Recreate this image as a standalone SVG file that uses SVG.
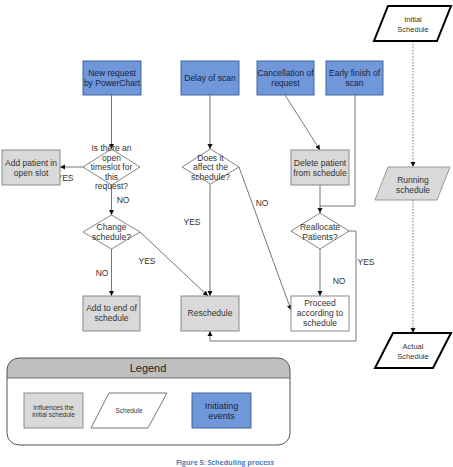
<svg xmlns="http://www.w3.org/2000/svg" width="453" height="467" viewBox="0 0 453 467">
<defs>
<marker id="ah" markerWidth="6" markerHeight="6" refX="5" refY="3" orient="auto" markerUnits="userSpaceOnUse">
<path d="M0,0.5 L5,3 L0,5.5 Z" fill="#111"/>
</marker>
<style>
text{font-family:"Liberation Sans",Arial,sans-serif;font-size:8.5px;fill:#333;text-anchor:middle}
.blue{fill:#6f97da;stroke:#41679e;stroke-width:1}
.blue-t{fill:#1a2240}
.gray{fill:#d9d9d9;stroke:#8a8a8a;stroke-width:1}
.white{fill:#fff;stroke:#8a8a8a;stroke-width:1}
.dia{fill:#fff;stroke:#666;stroke-width:0.8}
.con{fill:none;stroke:#777;stroke-width:1}
.dot{fill:none;stroke:#777;stroke-width:1;stroke-dasharray:1.5,1.5}
.lbl{fill:#333}
.sch{fill:#fff;stroke:#000;stroke-width:2}
.sm{font-size:6.5px}
</style>
</defs>
<rect width="453" height="467" fill="#fff"/>

<g id="connectors">
<line class="con" x1="111.5" y1="95" x2="111.5" y2="149" marker-end="url(#ah)"/>
<line class="con" x1="83" y1="167" x2="60" y2="167" marker-end="url(#ah)"/>
<line class="con" x1="111.5" y1="185" x2="111.5" y2="215" marker-end="url(#ah)"/>
<line class="con" x1="111.5" y1="249" x2="111.5" y2="296" marker-end="url(#ah)"/>
<line class="con" x1="140" y1="232" x2="208" y2="296" marker-end="url(#ah)"/>
<line class="con" x1="210" y1="95" x2="210" y2="149" marker-end="url(#ah)"/>
<line class="con" x1="210" y1="184" x2="210" y2="296" marker-end="url(#ah)"/>
<line class="con" x1="239" y1="167" x2="291" y2="310" marker-end="url(#ah)"/>
<line class="con" x1="285" y1="95" x2="320" y2="150" marker-end="url(#ah)"/>
<polyline class="con" points="355,95 355,206 320,206"/>
<line class="con" x1="320" y1="185" x2="320" y2="213" marker-end="url(#ah)"/>
<line class="con" x1="320" y1="249" x2="320" y2="296" marker-end="url(#ah)"/>
<polyline class="con" points="349,231 356,231 356,341 210,341 210,331" marker-end="url(#ah)"/>
<line class="dot" x1="413" y1="41" x2="413" y2="167" marker-end="url(#ah)"/>
<line class="dot" x1="413" y1="200" x2="413" y2="333" marker-end="url(#ah)"/>
<text class="lbl" x="65" y="181">YES</text>
<text class="lbl" x="123" y="203">NO</text>
<text class="lbl" x="147" y="264">YES</text>
<text class="lbl" x="102" y="276">NO</text>
<text class="lbl" x="192" y="225">YES</text>
<text class="lbl" x="262" y="206">NO</text>
<text class="lbl" x="339" y="284">NO</text>
<text class="lbl" x="366" y="265">YES</text>
</g>

<g id="new-request">
<rect class="blue" x="83" y="61" width="58" height="34"/>
<text class="blue-t" x="112" y="76">New request</text>
<text class="blue-t" x="112" y="86">by PowerChart</text>
</g>
<g id="delay-of-scan">
<rect class="blue" x="181" y="61" width="58" height="34"/>
<text class="blue-t" x="210" y="81">Delay of scan</text>
</g>
<g id="cancellation">
<rect class="blue" x="257" y="61" width="57" height="34"/>
<text class="blue-t" x="285.5" y="76">Cancellation of</text>
<text class="blue-t" x="285.5" y="86">request</text>
</g>
<g id="early-finish">
<rect class="blue" x="326" y="61" width="57" height="34"/>
<text class="blue-t" x="354.5" y="76">Early finish of</text>
<text class="blue-t" x="354.5" y="86">scan</text>
</g>

<g id="open-timeslot">
<polygon class="dia" points="111.5,149 140,167 111.5,185 83,167"/>
<text x="111.5" y="151">Is there an</text>
<text x="111.5" y="160.5">open</text>
<text x="111.5" y="170">timeslot for</text>
<text x="111.5" y="180">this</text>
<text x="111.5" y="189">request?</text>
</g>
<g id="add-patient">
<rect class="gray" x="2" y="150" width="58" height="35"/>
<text x="31" y="166">Add patient in</text>
<text x="31" y="175.5">open slot</text>
</g>
<g id="change-schedule">
<polygon class="dia" points="111.5,215 140,232 111.5,249 83,232"/>
<text x="111.5" y="230">Change</text>
<text x="111.5" y="240">schedule?</text>
</g>
<g id="add-to-end">
<rect class="gray" x="83" y="296" width="57" height="35"/>
<text x="111.5" y="311">Add to end of</text>
<text x="111.5" y="321">schedule</text>
</g>
<g id="affect-schedule">
<polygon class="dia" points="210.5,149 239,167 210.5,184 182,167"/>
<text x="210.5" y="161">Does it</text>
<text x="210.5" y="170">affect the</text>
<text x="210.5" y="180">schedule?</text>
</g>
<g id="reschedule">
<rect class="gray" x="181" y="296" width="58" height="35"/>
<text x="210" y="316">Reschedule</text>
</g>
<g id="delete-patient">
<rect class="gray" x="291" y="150" width="58" height="35"/>
<text x="320" y="166">Delete patient</text>
<text x="320" y="175.5">from schedule</text>
</g>
<g id="reallocate">
<polygon class="dia" points="320,213 349,231 320,249 291,231"/>
<text x="320" y="230">Reallocate</text>
<text x="320" y="240">Patients?</text>
</g>
<g id="proceed">
<rect class="white" x="291" y="296" width="58" height="35"/>
<text x="320" y="306">Proceed</text>
<text x="320" y="316">according to</text>
<text x="320" y="326">schedule</text>
</g>

<g id="initial-schedule">
<polygon class="sch" points="388,6 451,6 437,41 374,41"/>
<text class="sm" x="413" y="21.5" style="font-size:7.5px">Initial</text>
<text class="sm" x="413" y="31.5" style="font-size:7.5px">Schedule</text>
</g>
<g id="running-schedule">
<polygon points="388,167 450,167 437,200 375,200" fill="#d9d9d9" stroke="#999" stroke-width="1"/>
<text x="413" y="183">Running</text>
<text x="413" y="193">schedule</text>
</g>
<g id="actual-schedule">
<polygon class="sch" points="393,333 451,333 433,368 375,368"/>
<text x="413" y="349" style="font-size:7.5px">Actual</text>
<text x="413" y="359" style="font-size:7.5px">Schedule</text>
</g>

<g id="legend">
<path d="M7,378 V370 A12,12 0 0 1 19,358 H278 A12,12 0 0 1 290,370 V378 Z" fill="#bfbfbf"/>
<line x1="7" y1="378" x2="290" y2="378" stroke="#555" stroke-width="0.8"/>
<rect x="7" y="358" width="283" height="87" rx="12" ry="12" fill="none" stroke="#555" stroke-width="1"/>
<text x="148" y="371.5" style="font-size:11px;fill:#222">Legend</text>
<rect class="gray" x="24" y="393" width="59" height="35"/>
<text class="sm" x="53.5" y="409.5">Influences the</text>
<text class="sm" x="53.5" y="417">initial schedule</text>
<polygon points="109,393 167,393 148,428 91,428" fill="#fff" stroke="#555" stroke-width="0.8"/>
<text class="sm" x="129" y="413">Schedule</text>
<rect class="blue" x="192" y="393" width="59" height="35"/>
<text class="blue-t" x="221.5" y="409" style="font-size:9px">Initiating</text>
<text class="blue-t" x="221.5" y="419" style="font-size:9px">events</text>
</g>

<text x="225" y="465" style="font-family:'Open Sans','Liberation Sans',sans-serif;font-size:7px;font-weight:bold;fill:#4f81bd">Figure 5: Scheduling process</text>
</svg>
